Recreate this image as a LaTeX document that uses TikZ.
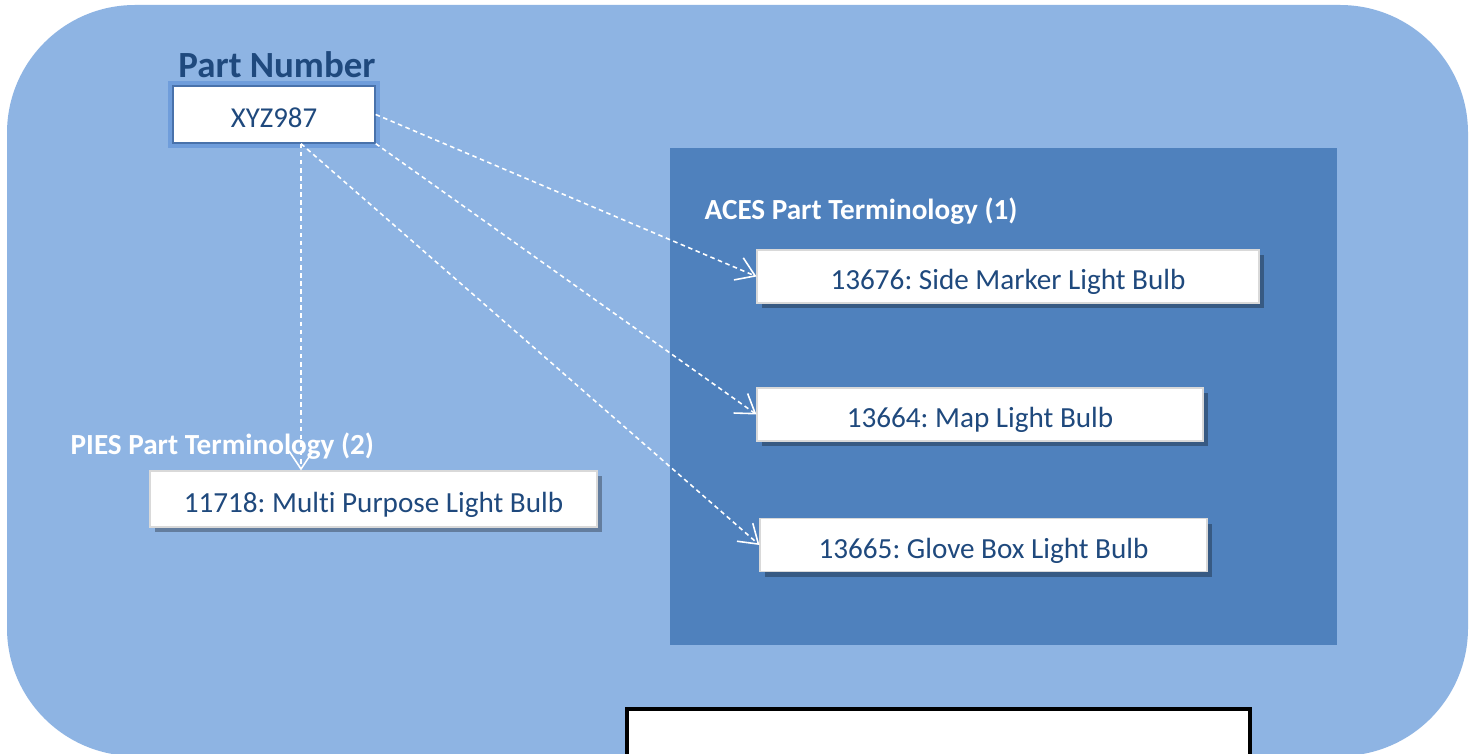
\documentclass[tikz,border=0pt]{standalone}
\usepackage{fontspec}
\setmainfont{Carlito}[Ligatures=NoCommon]
\usepackage{xcolor}
\usetikzlibrary{arrows.meta,positioning,calc,shadows}
\frenchspacing

\definecolor{bgblue}{HTML}{8EB4E3}
\definecolor{grpblue}{HTML}{4F81BD}
\definecolor{txtblue}{HTML}{1F497D}
\definecolor{glowblue}{HTML}{5B8ED6}

\begin{document}
\begin{tikzpicture}[
  item/.style={draw=white!85!black, line width=0.3pt, fill=white, minimum height=0.53cm, inner sep=0pt, text height=0.32cm, text depth=0.06cm, font=\fontsize{8.3}{10}\selectfont, text=txtblue, drop shadow={shadow xshift=0.05cm, shadow yshift=-0.05cm, fill=black, opacity=0.3}},
  hdr/.style={font=\fontsize{8.3}{10}\selectfont\bfseries, text=white, inner sep=0pt, anchor=west},
  arr/.style={-{Straight Barb[length=1.8mm, width=2.4mm]}, white, line width=0.45pt, dash pattern=on 1.3pt off 1pt},
]
\useasboundingbox (0,0) rectangle (14.75,7.53);
\clip (0,0) rectangle (14.75,7.53);
\fill[white] (0,0) rectangle (14.75,7.53);

% frames
\fill[bgblue, rounded corners=1.28cm] (0.07,-0.03) rectangle (14.68,7.48);
\fill[grpblue] (6.70,1.08) rectangle (13.37,6.05);
\draw[black, line width=1pt, fill=white] (6.27,-0.2) rectangle (12.50,0.44);

% part number
\node[font=\fontsize{10.5}{12}\selectfont\bfseries, text=txtblue] (title) at (2.77,6.88) {Part Number};
\node[draw=glowblue!80!black, line width=0.4pt, fill=white, minimum width=2.02cm, minimum height=0.57cm, inner sep=0pt,
  text height=0.32cm, text depth=0.06cm, font=\fontsize{8.2}{10}\selectfont, text=txtblue,
  preaction={draw=glowblue, line width=3pt, opacity=0.6}] (pn) at (2.74,6.385) {XYZ987};

% terminology
\node[hdr] (aces) at (7.04,5.42) {ACES Part Terminology (1)};
\node[item, minimum width=5.02cm] (side) at (10.08,4.765) {13676: Side Marker Light Bulb};
\node[item, minimum width=4.46cm] (map) at (9.80,3.385) {13664: Map Light Bulb};
\node[item, minimum width=4.47cm] (glove) at (9.835,2.08) {13665: Glove Box Light Bulb};

\node[hdr] (pies) at (0.70,3.07) {PIES Part Terminology (2)};
\node[item, minimum width=4.47cm, minimum height=0.56cm] (multi) at (3.735,2.54) {11718: Multi Purpose Light Bulb};

% links
\coordinate (fork) at ([xshift=0.27cm]pn.south);
\draw[arr] (pn.east) -- (side.west);
\draw[arr] (pn.south east) -- (map.west);
\draw[arr] (fork) -- (glove.west);
\draw[arr] (fork) -- (fork |- multi.north);

\end{tikzpicture}
\end{document}
